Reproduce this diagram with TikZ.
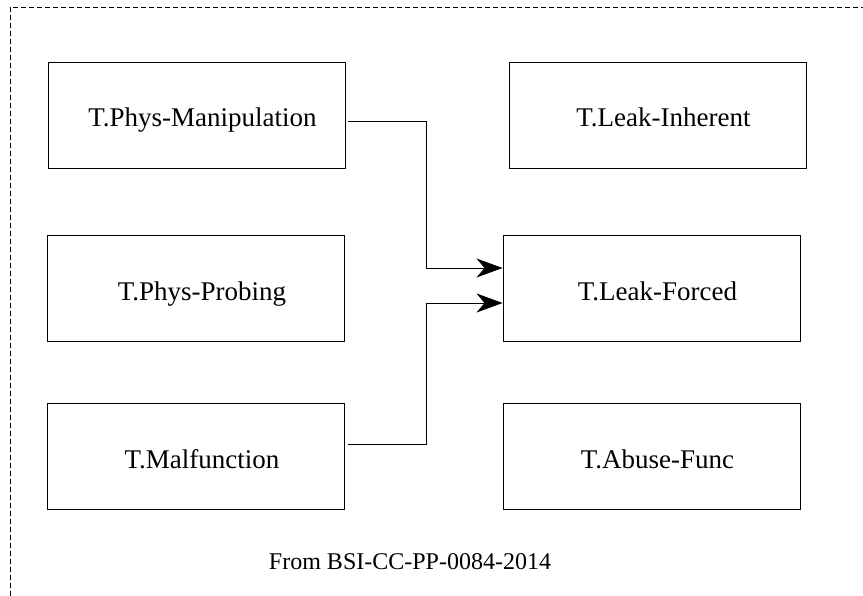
\documentclass[tikz,border=0pt]{standalone}
\usepackage{fontspec}
\setmainfont{Liberation Serif}
\usepackage{tikz}
\usetikzlibrary{arrows.meta}

\begin{document}
\begin{tikzpicture}[x=1pt,y=-1pt,threat/.style={draw,line width=0.9pt,minimum width=297pt,minimum height=106pt,text height=24pt,text depth=0pt,execute at begin node=\hspace*{12pt},font=\fontsize{27}{31}\selectfont},flow/.style={line width=0.9pt,-{Stealth[length=26pt,width=19pt,inset=8pt]}}]
	\useasboundingbox (0,0) rectangle (863,596);
	\draw[line width=0.8pt,dash pattern=on 5pt off 3pt] (10,596) -- (10,7) -- (863,7);
	\node[threat] (pm) at (196.5,115) {T.Phys-Manipulation};
	\node[threat] (li) at (657.5,115) {T.Leak-Inherent};
	\node[threat] (pp) at (196,288.5) {T.Phys-Probing};
	\node[threat] (lf) at (651.5,288.5) {T.Leak-Forced};
	\node[threat] (mf) at (196,456.5) {T.Malfunction};
	\node[threat] (af) at (651.5,456.5) {T.Abuse-Func};
	\node[font=\fontsize{24}{28}\selectfont] (src) at (410,562) {From BSI-CC-PP-0084-2014};
	\draw[flow] ([xshift=3pt,yshift=-6pt]pm.east) -- ++(78,0) |- ([yshift=20.5pt]lf.west);
	\draw[flow] ([xshift=3pt,yshift=12.5pt]mf.east) -- ++(78,0) |- ([yshift=-14.5pt]lf.west);
\end{tikzpicture}
\end{document}
